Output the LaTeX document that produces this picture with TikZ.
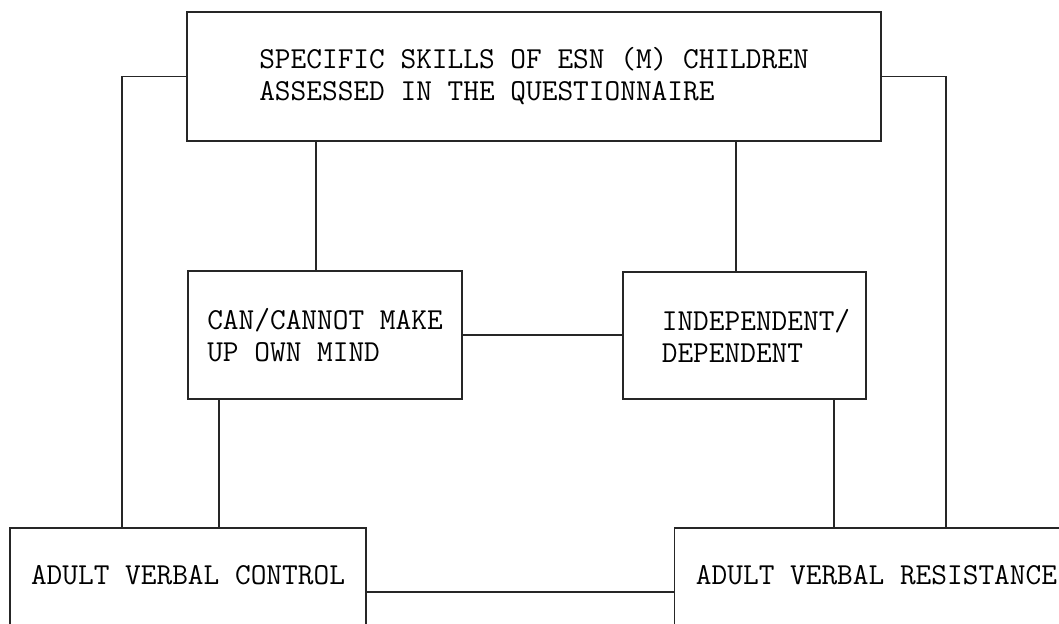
\documentclass[tikz,border=0pt]{standalone}
\usepackage{tikz}
\usetikzlibrary{positioning, calc}

\begin{document}
\begin{tikzpicture}[x=0.02cm, y=-0.02cm,
    box/.style={draw=black!85, line width=1pt, align=left, inner sep=0pt,
        font=\fontsize{17.35}{18.2}\selectfont\ttfamily},
    link/.style={draw=black!85, line width=1pt},
]
\useasboundingbox (0,0) rectangle (1059,623);

% Top box
\node[box, minimum width=13.88cm, minimum height=2.58cm] (skills) at (534,76.5)
    {SPECIFIC SKILLS OF ESN (M) CHILDREN\\ASSESSED IN THE QUESTIONNAIRE};

% Middle boxes
\node[box, minimum width=5.48cm, minimum height=2.56cm] (cmind) at (325,335)
    {CAN/CANNOT MAKE\\UP OWN MIND};
\node[box, minimum width=4.86cm, minimum height=2.54cm] (indep) at (744.5,335.5)
    {\hspace*{0.46cm}INDEPENDENT/\\\hspace*{0.46cm}DEPENDENT};

% Bottom boxes
\node[box, minimum width=7.12cm, minimum height=2.56cm,
      text height=10pt, text depth=18pt] (avc) at (188,592)
    {ADULT VERBAL CONTROL};
\node[box, minimum width=7.7cm, minimum height=2.56cm,
      text height=10pt, text depth=18pt] (avr) at (867,592)
    {\hspace*{0.38cm}ADULT VERBAL RESISTANCE};

% Connectors
\coordinate (cmtop) at ($(cmind.north)+(-9,0)$);
\coordinate (indtop) at ($(indep.north)+(-8.5,0)$);
\coordinate (cmbot) at ($(cmind.south west)+(32,0)$);
\coordinate (indbot) at ($(indep.south east)+(-33,0)$);

\draw[link] (skills.west) -| ($(avc.north west)+(113,0)$);
\draw[link] (skills.east) -| ($(avr.north west)+(272,0)$);
\draw[link] (cmtop) -- (cmtop |- skills.south);
\draw[link] (indtop) -- (indtop |- skills.south);
\draw[link] (cmind.east) -- (cmind.east -| indep.west);
\draw[link] (cmbot) -- (cmbot |- avc.north);
\draw[link] (indbot) -- (indbot |- avr.north);
\draw[link] (avc.east) -- (avr.west);

\end{tikzpicture}
\end{document}
